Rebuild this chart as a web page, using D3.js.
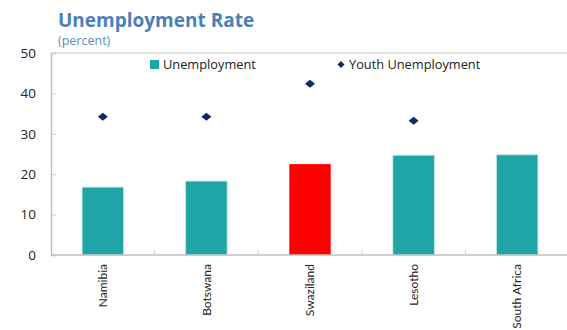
<!DOCTYPE html>
<html><head><meta charset="utf-8">
<script src="https://cdn.jsdelivr.net/npm/d3@7"></script>
<style>body{margin:0;background:#fff}svg{display:block}</style>
</head><body>
<svg id="c" width="567" height="330"></svg>
<script>
const categories = ["Namibia","Botswana","Swaziland","Lesotho","South Africa"];
const unemployment = [16.8, 18.3, 22.5, 24.7, 24.8];
const youthUnemployment = [34.2, 34.2, 42.4, 33.2, null];
const highlight = ["Swaziland"];
const yTicks = [0,10,20,30,40,50];

const svg = d3.select("#c");
const font = "'Open Sans', sans-serif";
const L = 51, R = 569, T = 53, B = 255;
const x = d3.scaleBand().domain(categories).range([L, R]);
const y = d3.scaleLinear().domain([0,50]).range([B, T]);

function diamond(w,h){ return `M0,${-h/2}L${w/2},0L0,${h/2}L${-w/2},0Z`; }

// title
svg.append("text").attr("x",58).attr("y",27).text("Unemployment Rate")
  .attr("font-family",font).attr("font-weight","bold").attr("font-size",19).attr("fill","#4a80b8");
svg.append("text").attr("x",58).attr("y",45).text("(percent)")
  .attr("font-family",font).attr("font-size",12.5).attr("fill","#5b8ec0");

// top border
svg.append("line").attr("x1",L).attr("x2",567).attr("y1",T).attr("y2",T).attr("stroke","#d9d9d9").attr("stroke-width",1.5);

// bars
svg.selectAll(".bar").data(categories).enter().append("rect")
  .attr("x", d => x(d) + x.bandwidth()*0.3)
  .attr("width", x.bandwidth()*0.4)
  .attr("y", (d,i) => y(unemployment[i]))
  .attr("height", (d,i) => B - y(unemployment[i]))
  .attr("fill", d => highlight.includes(d) ? "#ff0000" : "#1fa5a6")
  .attr("stroke", d => highlight.includes(d) ? "none" : "#bfe6e6").attr("stroke-width",0.8);

// diamonds
svg.selectAll(".pt").data(categories.map((c,i)=>({c, v:youthUnemployment[i]})).filter(d=>d.v!=null))
  .enter().append("path").attr("d", diamond(10,8))
  .attr("transform", d => `translate(${x(d.c)+x.bandwidth()/2},${y(d.v)})`)
  .attr("fill","#0b2a66");

// y axis
const ya = d3.axisLeft(y).tickValues(yTicks).tickSize(-5).tickPadding(15);
const yg = svg.append("g").attr("transform",`translate(${L},0)`).call(ya);
yg.select(".domain").attr("stroke","#bfbfbf").attr("stroke-width",1.5);
yg.selectAll(".tick line").attr("stroke","#d0d0d0");
yg.selectAll("text").attr("font-family",font).attr("font-size",13.5).attr("fill","#222");

// x axis
const xa = d3.axisBottom(x).tickSize(0).tickPadding(0);
const xg = svg.append("g").attr("transform",`translate(0,${B})`).call(xa);
xg.select(".domain").remove();
svg.append("line").attr("x1",L).attr("x2",567).attr("y1",B).attr("y2",B).attr("stroke","#bfbfbf").attr("stroke-width",1.5);
xg.selectAll("text").attr("font-family","Lato, sans-serif").attr("font-size",12).attr("fill","#222")
  .attr("transform","rotate(-90)").attr("text-anchor","end").attr("dx","-9px").attr("dy","0.35em").attr("x",0).attr("y",0);
// category boundary ticks
svg.selectAll(".bt").data(categories.slice(1)).enter().append("line")
  .attr("x1", d => x(d)).attr("x2", d => x(d)).attr("y1",B).attr("y2",B-5)
  .attr("stroke","#d0d0d0");

// legend
const lg = svg.append("g");
lg.append("rect").attr("x",150).attr("y",60).attr("width",9).attr("height",9).attr("fill","#1fa5a6");
lg.append("text").attr("x",163).attr("y",69).text("Unemployment").attr("font-family",font).attr("font-size",12.8).attr("fill","#222");
lg.append("path").attr("d", diamond(7,7)).attr("transform","translate(341,64.5)").attr("fill","#0b2a66");
lg.append("text").attr("x",349).attr("y",69).text("Youth Unemployment").attr("font-family",font).attr("font-size",12.8).attr("fill","#222");
</script>
</body></html>
